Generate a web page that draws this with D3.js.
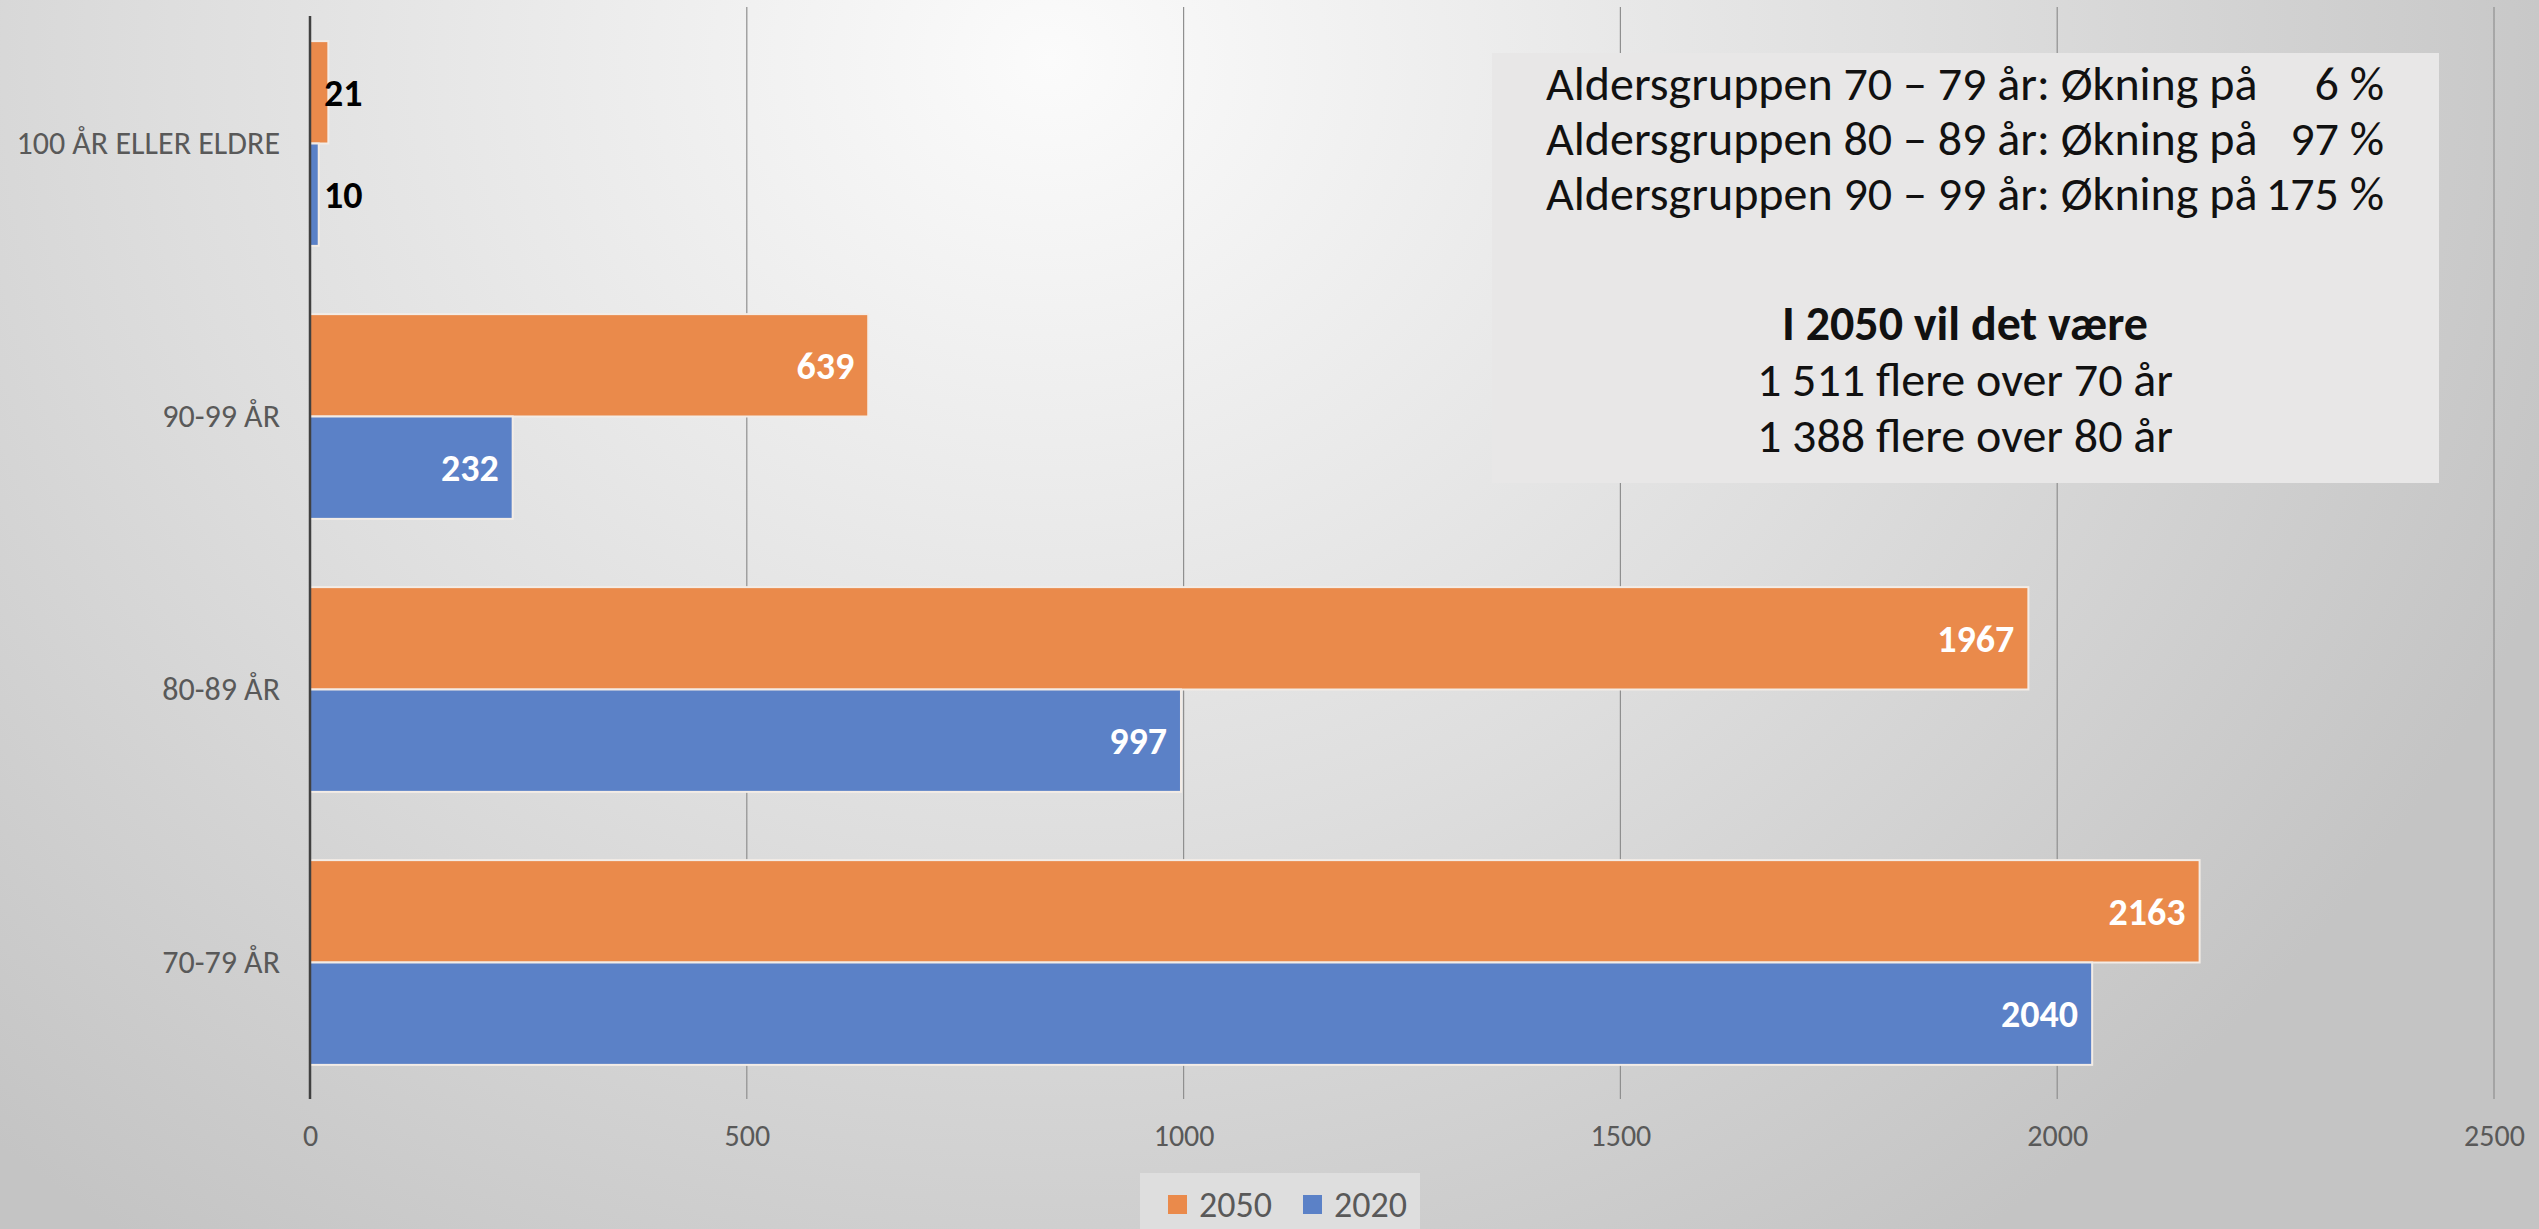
<!DOCTYPE html>
<html>
<head>
<meta charset="utf-8">
<script src="https://cdn.jsdelivr.net/npm/d3@7"></script>
<style>
  html, body { margin: 0; padding: 0; overflow: hidden; }
  body { font-family: Carlito, Calibri, "Open Sans", sans-serif; }
</style>
</head>
<body>
<div id="chart"></div>
<script>
// data
var categories = ["100 ÅR ELLER ELDRE", "90-99 ÅR", "80-89 ÅR", "70-79 ÅR"];
var seriesNames = ["2050", "2020"];
var values2050 = [21, 639, 1967, 2163];
var values2020 = [10, 232, 997, 2040];
var xTicks = [0, 500, 1000, 1500, 2000, 2500];
var growthLabels = ["Aldersgruppen 70 – 79 år: Økning på", "Aldersgruppen 80 – 89 år: Økning på", "Aldersgruppen 90 – 99 år: Økning på"];
var growthPct = ["6 %", "97 %", "175 %"];
var summaryTitle = "I 2050 vil det være";
var summaryLines = ["1 511 flere over 70 år", "1 388 flere over 80 år"];

var width = 2539, height = 1229;
var colors = { "2050": "#EA8A4B", "2020": "#5B81C7" };
var font = "Carlito, Calibri, 'Open Sans', sans-serif";

var svg = d3.select("#chart").append("svg")
  .attr("width", width)
  .attr("height", height)
  .style("font-family", font);

// background gradient
var defs = svg.append("defs");
var bg = defs.append("radialGradient")
  .attr("id", "bg")
  .attr("gradientUnits", "userSpaceOnUse")
  .attr("cx", 1050).attr("cy", 60).attr("r", 1600)
  .attr("gradientTransform", "translate(1050,60) scale(1,0.9) translate(-1050,-60)");
bg.append("stop").attr("offset", "0").attr("stop-color", "#fbfbfb");
bg.append("stop").attr("offset", "0.55").attr("stop-color", "#dedede");
bg.append("stop").attr("offset", "1").attr("stop-color", "#c4c4c4");

svg.append("rect").attr("width", width).attr("height", height).attr("fill", "url(#bg)");

var x = d3.scaleLinear().domain([0, 2500]).range([310, 2494]);
var y = d3.scaleBand().domain(categories).range([7, 1099]).paddingInner(0.25).paddingOuter(0.125);
var y1 = d3.scaleBand().domain(seriesNames).range([0, y.bandwidth()]);

// gridlines
svg.append("g")
  .selectAll("line")
  .data(xTicks.slice(1))
  .enter().append("line")
  .attr("x1", function(d) { return x(d); })
  .attr("x2", function(d) { return x(d); })
  .attr("y1", 7).attr("y2", 1099)
  .attr("stroke", "#8f8f8f")
  .attr("stroke-width", 1.2);

// bars
var rows = categories.map(function(c, i) {
  return { cat: c, vals: [{ s: "2050", v: values2050[i] }, { s: "2020", v: values2020[i] }] };
});

var groups = svg.append("g").selectAll("g")
  .data(rows)
  .enter().append("g")
  .attr("transform", function(d) { return "translate(0," + y(d.cat) + ")"; });

groups.selectAll("rect")
  .data(function(d) { return d.vals; })
  .enter().append("rect")
  .attr("x", x(0))
  .attr("y", function(d) { return y1(d.s); })
  .attr("width", function(d) { return x(d.v) - x(0); })
  .attr("height", y1.bandwidth())
  .attr("fill", function(d) { return colors[d.s]; })
  .attr("stroke", "#f3ece6")
  .attr("stroke-width", 2);

function small(d) { return x(d.v) - x(0) < 80; }

groups.selectAll("text")
  .data(function(d) { return d.vals; })
  .enter().append("text")
  .attr("y", function(d) { return y1(d.s) + y1.bandwidth() / 2; })
  .attr("dy", "0.35em")
  .attr("x", function(d) { return small(d) ? x(0) + 14 : x(d.v) - 14; })
  .attr("text-anchor", function(d) { return small(d) ? "start" : "end"; })
  .attr("fill", function(d) { return small(d) ? "#000" : "#fff"; })
  .style("font-size", "38px")
  .style("font-weight", "bold")
  .text(function(d) { return d.v; });

// y axis line + labels
var yAxis = d3.axisLeft(y).tickSize(0).tickPadding(30);
var gy = svg.append("g").attr("transform", "translate(" + x(0) + ",0)").call(yAxis)
  .attr("font-family", null).attr("font-size", null);
gy.select(".domain").attr("stroke", "#404040").attr("stroke-width", 2.5).attr("d", "M0,16V1099");
gy.selectAll("text").style("font-size", "32px").attr("fill", "#595959");

// x axis labels
var xAxis = d3.axisBottom(x).tickValues(xTicks).tickFormat(d3.format("d")).tickSize(0).tickPadding(26);
var gx = svg.append("g").attr("transform", "translate(0,1099)").call(xAxis)
  .attr("font-family", null).attr("font-size", null);
gx.select(".domain").remove();
gx.selectAll("text").style("font-size", "30px").attr("fill", "#595959");

// text box
var box = svg.append("g");
box.append("rect")
  .attr("x", 1492).attr("y", 53).attr("width", 947).attr("height", 430)
  .attr("fill", "#e8e7e7");
box.selectAll("text.lbl")
  .data(growthLabels)
  .enter().append("text")
  .attr("class", "lbl")
  .attr("x", 1546)
  .attr("y", function(d, i) { return 100 + i * 55; })
  .style("font-size", "48px")
  .attr("fill", "#111")
  .text(function(d) { return d; });
box.selectAll("text.pct")
  .data(growthPct)
  .enter().append("text")
  .attr("class", "pct")
  .attr("x", 2384)
  .attr("y", function(d, i) { return 100 + i * 55; })
  .attr("text-anchor", "end")
  .style("font-size", "48px")
  .attr("fill", "#111")
  .text(function(d) { return d; });
box.append("text")
  .attr("x", 1965).attr("y", 340)
  .attr("text-anchor", "middle")
  .style("font-size", "48px").style("font-weight", "bold")
  .attr("fill", "#111")
  .text(summaryTitle);
box.selectAll("text.sum")
  .data(summaryLines)
  .enter().append("text")
  .attr("class", "sum")
  .attr("x", 1965)
  .attr("y", function(d, i) { return 396 + i * 56; })
  .attr("text-anchor", "middle")
  .style("font-size", "48px")
  .attr("fill", "#111")
  .text(function(d) { return d; });

// legend
var legend = svg.append("g");
legend.append("rect")
  .attr("x", 1140).attr("y", 1173).attr("width", 280).attr("height", 60)
  .attr("fill", "#dedede");
var li = legend.selectAll("g")
  .data(seriesNames)
  .enter().append("g")
  .attr("transform", function(d, i) { return "translate(" + (1168 + i * 135) + ",0)"; });
li.append("rect")
  .attr("y", 1195).attr("width", 19).attr("height", 19)
  .attr("fill", function(d) { return colors[d]; });
li.append("text")
  .attr("x", 31).attr("y", 1204).attr("dy", "0.35em")
  .style("font-size", "36px")
  .attr("fill", "#595959")
  .text(function(d) { return d; });
</script>
</body>
</html>
